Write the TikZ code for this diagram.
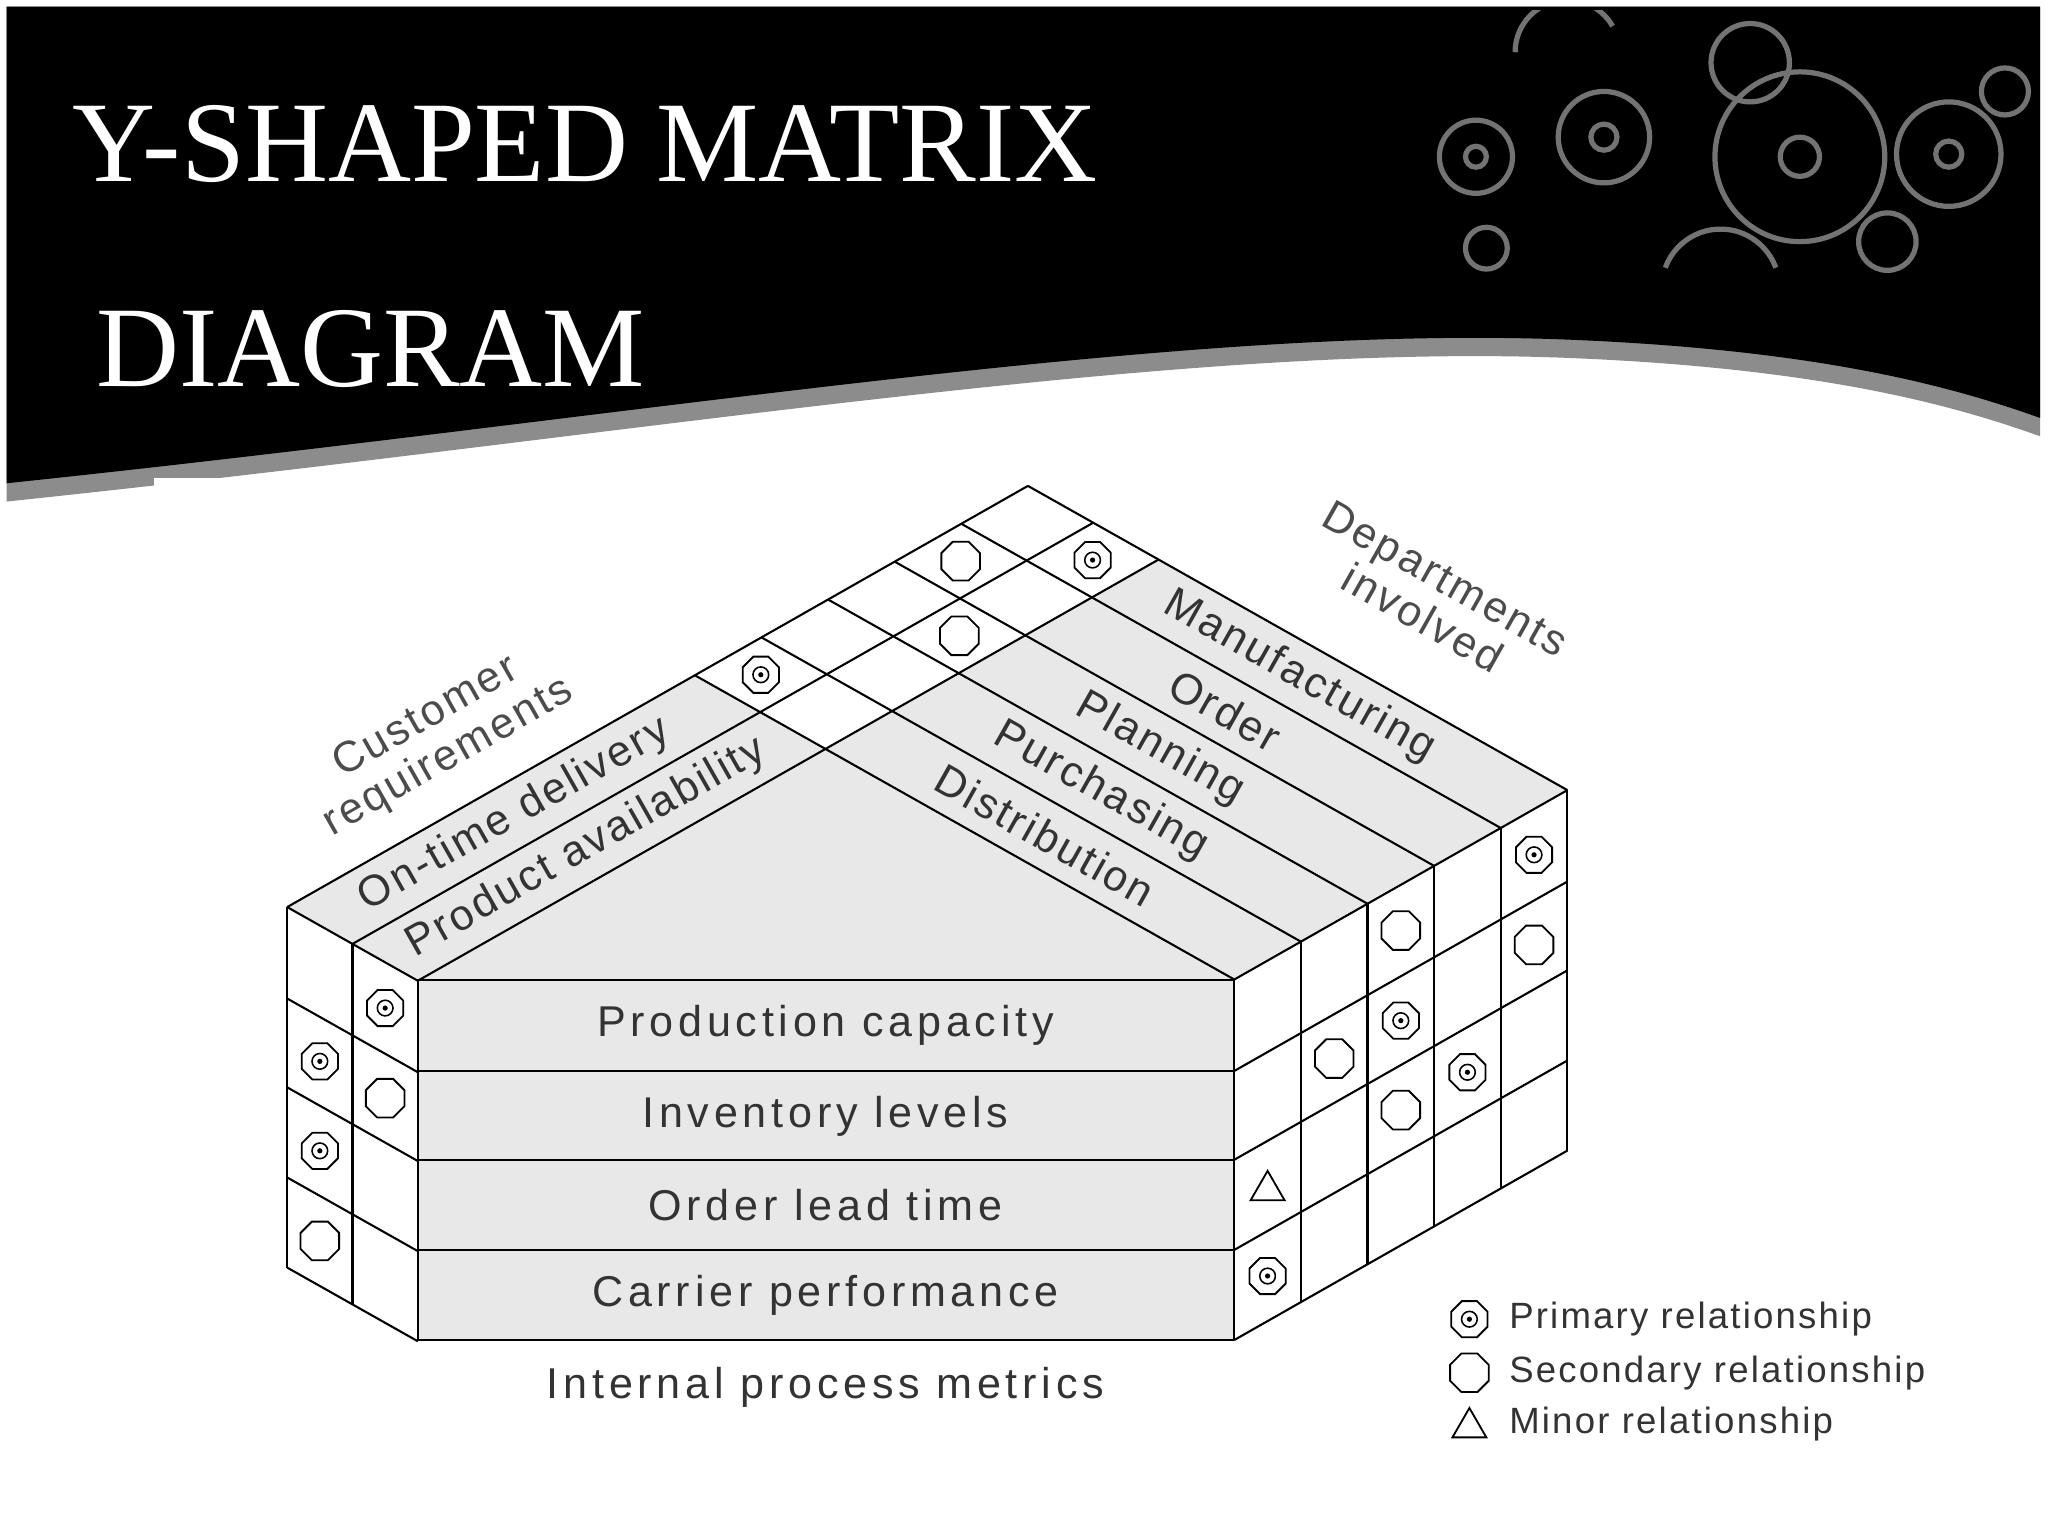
\documentclass[tikz,border=0pt]{standalone}
\usepackage{fontspec}
\setmainfont{Liberation Serif}
\newfontfamily\arialf{Liberation Sans}[LetterSpace=6]
\newfontfamily\arialw{Liberation Sans}[LetterSpace=11]
\usetikzlibrary{shapes.geometric}
\newcommand\mpt[2]{({787+50*(#1)-51*(#2)},{372+28.2*(#1)+29*(#2)})}
\newcommand\mptd[3]{({787+50*(#1)-51*(#2)},{372+28.2*(#1)+29*(#2)+(#3)})}
\begin{document}
\begin{tikzpicture}[x=1pt,y=-1pt,
  ln/.style={black,line width=1.6pt,line join=round},
  lane/.style={fill=black!9},
  sec/.style={draw=black,line width=1.4pt,regular polygon,regular polygon sides=8,minimum size=32pt,inner sep=0pt},
  primo/.style={draw=black,line width=1.4pt,regular polygon,regular polygon sides=8,minimum size=30pt,inner sep=0pt},
  primi/.style={draw=black,line width=1.2pt,circle,minimum size=12pt,inner sep=0pt},
  tri/.style={draw=black,line width=1.4pt,regular polygon,regular polygon sides=3,minimum size=30pt,inner sep=0pt},
  lab/.style={font=\arialf\fontsize{33}{35}\selectfont,text=black!80},
  flab/.style={font=\arialw\fontsize{33}{35}\selectfont,text=black!80},
  leg/.style={font=\arialf\fontsize{28}{30}\selectfont,text=black!80,anchor=west}]
\useasboundingbox (0,0) rectangle (1568,1176);
\fill[white] (0,0) rectangle (1568,1176);
% header
\fill[black!45] (5,5) -- (1562,5) -- (1562,334) .. controls (1500,312) and (1400,282) .. (1200,274) .. controls (900,262) and (500,332) .. (5,384) -- cycle;
\fill[black] (5,5) -- (1562,5) -- (1562,320) .. controls (1500,298) and (1400,268) .. (1200,260) .. controls (900,248) and (500,318) .. (5,370) -- cycle;
\fill[white] (118,366) rectangle (300,392);
% swirls
\begin{scope}[draw=black!55,line width=4pt]
\clip (1090,8) rectangle (1562,240);
\draw (1130,120) circle (28); \draw (1130,120) circle (8);
\draw (1228,105) circle (35); \draw (1228,105) circle (10);
\draw (1378,120) circle (65); \draw (1378,120) circle (15);
\draw (1492,118) circle (40); \draw (1492,118) circle (10);
\draw (1340,48) circle (30); \draw (1138,190) circle (16);
\draw (1445,185) circle (22); \draw (1535,70) circle (18);
\draw (1275,205) arc (200:340:45); \draw (1160,40) arc (180:330:40);
\end{scope}
\node[text=white,font=\fontsize{88}{92}\selectfont,anchor=west] (t1) at (52,110) {Y-SHAPED MATRIX};
\node[text=white,font=\fontsize{88}{92}\selectfont,anchor=west] (t2) at (70,267) {DIAGRAM};
% top surface
\fill[lane] \mpt{0}{0} -- \mpt{8.26}{0} -- \mpt{8.26}{5} -- \mpt{2}{11.12} -- \mpt{0}{11.12} -- cycle;
\fill[white] \mpt{0}{0} -- \mpt{2}{0} -- \mpt{2}{5} -- \mpt{0}{5} -- cycle;
\foreach \a in {0,1,2} \draw[ln] \mpt{\a}{0} -- \mpt{\a}{11.12};
\foreach \b in {0,...,5} \draw[ln] \mpt{0}{\b} -- \mpt{8.26}{\b};
\draw[ln] \mpt{0}{11.12} -- \mpt{2}{11.12};
\draw[ln] \mpt{8.26}{0} -- \mpt{8.26}{5};
% left face
\foreach \a in {0,1,2} \draw[ln] \mpt{\a}{11.12} -- \mptd{\a}{11.12}{276};
\foreach \k in {70,138,207,276} \draw[ln] \mptd{0}{11.12}{\k} -- \mptd{2}{11.12}{\k};
% right face
\foreach \b in {0,...,5} \draw[ln] \mpt{8.26}{\b} -- \mptd{8.26}{\b}{276};
\foreach \k in {70,138,207,276} \draw[ln] \mptd{8.26}{0}{\k} -- \mptd{8.26}{5}{\k};
% front
\foreach \t/\y/\h [count=\i] in {Production capacity/750/70,Inventory levels/820/68,Order lead time/888/69,Carrier performance/957/69}{
  \draw[ln,fill=black!9] (320,\y) rectangle (945,{\y+\h});
  \node[flab] (f\i) at (632,{\y+35}) {\t};
}
% lane labels
\node[lab,rotate=29.6] (c1) at \mpt{0.5}{8.2} {On-time delivery};
\node[lab,rotate=29.6] (c2) at \mpt{1.5}{8.1} {Product availability};
\node[lab,rotate=-29.4] (d1) at \mpt{4.67}{0.5} {Manufacturing};
\node[lab,rotate=-29.4] (d2) at \mpt{4.55}{1.5} {Order};
\node[lab,rotate=-29.4] (d3) at \mpt{4.57}{2.5} {Planning};
\node[lab,rotate=-29.4] (d4) at \mpt{4.69}{3.5} {Purchasing};
\node[lab,rotate=-29.4] (d5) at \mpt{4.85}{4.5} {Distribution};
\node[lab,rotate=29.6,align=center,text=black!70] (cr) at (335,565) {Customer\\requirements};
\node[lab,rotate=-29.4,align=center,text=black!70] (di) at (1098,458) {Departments\\involved};
\node[flab] (ipm) at (632,1062) {Internal process metrics};
% symbols
\newcommand\prim[2]{\node[primo] (#1o) at #2 {}; \node[primi] (#1i) at #2 {}; \fill (#1i.center) circle (2pt);}
\prim{m1}{\mpt{1.5}{0.5}}
\node[sec] (m2) at \mpt{0.5}{1.5} {};
\prim{m3}{\mpt{0.5}{4.5}}
\node[sec] (m4) at \mpt{1.5}{2.5} {};
\prim{l1}{\mptd{0.5}{11.12}{104}}
\prim{l2}{\mptd{0.5}{11.12}{172.5}}
\node[sec] (l3) at \mptd{0.5}{11.12}{241.5} {};
\prim{l4}{\mptd{1.5}{11.12}{35}}
\node[sec] (l5) at \mptd{1.5}{11.12}{104} {};
\node[tri] (r1) at \mptd{8.26}{4.5}{176} {};
\prim{r2}{\mptd{8.26}{4.5}{241.5}}
\node[sec] (r3) at \mptd{8.26}{3.5}{104} {};
\node[sec] (r4) at \mptd{8.26}{2.5}{35} {};
\prim{r5}{\mptd{8.26}{2.5}{104}}
\node[sec] (r6) at \mptd{8.26}{2.5}{172.5} {};
\prim{r7}{\mptd{8.26}{1.5}{172.5}}
\prim{r8}{\mptd{8.26}{0.5}{35}}
\node[sec] (r9) at \mptd{8.26}{0.5}{104} {};
% legend
\prim{g1}{(1125,1010)}
\node[sec] (g2) at (1125,1051) {};
\node[tri] (g3) at (1125,1093) {};
\node[leg] (gt1) at (1152,1010) {Primary relationship};
\node[leg] (gt2) at (1152,1051) {Secondary relationship};
\node[leg] (gt3) at (1152,1090) {Minor relationship};
\end{tikzpicture}
\end{document}
